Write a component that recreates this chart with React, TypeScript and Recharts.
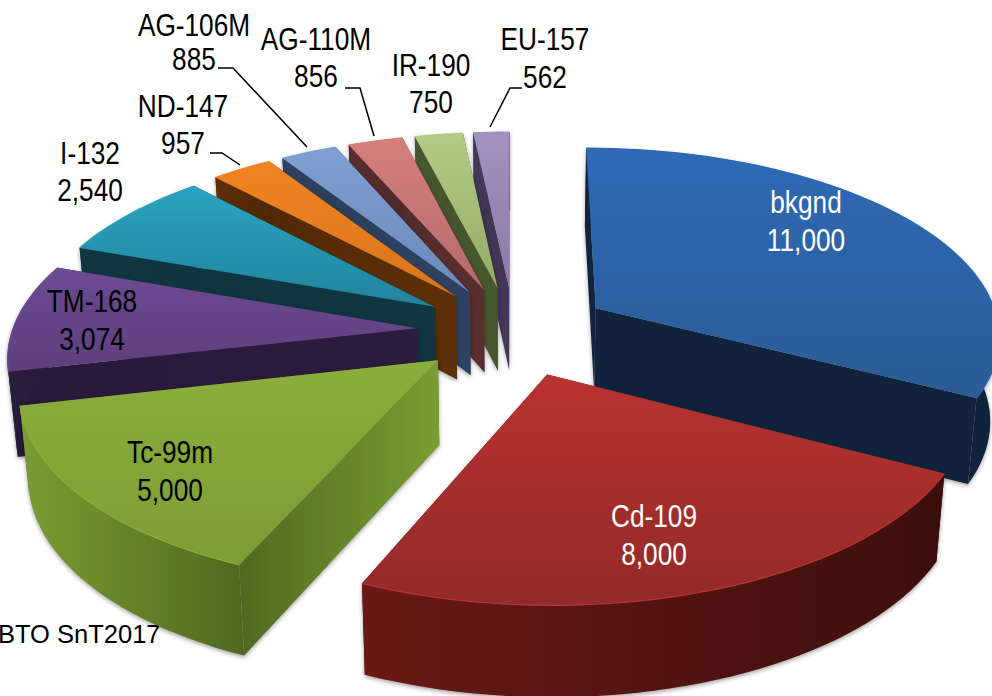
import React from 'react';
import { PieChart, Pie } from 'recharts';

// clockwise on the original is counter-clockwise here, so later slices paint over earlier ones
const isotopes = ['bkgnd', 'EU-157', 'IR-190', 'AG-110M', 'AG-106M', 'ND-147', 'I-132', 'TM-168', 'Tc-99m', 'Cd-109'];
const counts = [11000, 562, 750, 856, 885, 957, 2540, 3074, 5000, 8000];

const chartData = isotopes.map((name, i) => ({ name, value: counts[i] }));
const total = counts.reduce((a, b) => a + b, 0);
const START = 90 - (360 * counts[0]) / total;

const W = 992;
const H = 696;
const CX = 514;
const CY = 331;
const RADIUS = 405;
const EXPLODE = 97;
const DEPTH = 84;
const TILT = 0.462;
const PERSP = 0.00033;

// top light, top dark, wall light, wall dark
const colors: Record<string, string[]> = {
  bkgnd: ['#2f6ab6', '#2a5b95', '#12243e', '#11233c'],
  'Cd-109': ['#b93331', '#922a28', '#6a1916', '#3c0f0c'],
  'Tc-99m': ['#8bae3b', '#7d9d36', '#7b9c32', '#4f6a20'],
  'TM-168': ['#6b4b92', '#5e3f7d', '#2c1c3e', '#28183a'],
  'I-132': ['#2ba3c0', '#21849c', '#103640', '#0f3440'],
  'ND-147': ['#f08423', '#d9741b', '#5e3008', '#4e2806'],
  'AG-106M': ['#809fd2', '#6b8ab8', '#2d4264', '#2c3e5a'],
  'AG-110M': ['#d5807f', '#b56969', '#5a2e2e', '#4e2a2a'],
  'IR-190': ['#b3cc85', '#94aa67', '#48582e', '#44522c'],
  'EU-157': ['#a391c0', '#8a78a8', '#443859', '#3e3350'],
};

// label centre x, baselines of the two lines, colour
const labelPlaces: Record<string, [number, number, number, string]> = {
  bkgnd: [806, 213, 251, '#ffffff'],
  'Cd-109': [654, 527, 565, '#ffffff'],
  'Tc-99m': [170, 463, 501, '#000000'],
  'TM-168': [92, 312, 350, '#000000'],
  'I-132': [90, 164, 201, '#000000'],
  'ND-147': [183, 117, 154, '#000000'],
  'AG-106M': [194, 36, 70, '#000000'],
  'AG-110M': [316, 50, 87, '#000000'],
  'IR-190': [431, 76, 113, '#000000'],
  'EU-157': [545, 50, 88, '#000000'],
};

const leaders = [
  '490,127 510,88 522,88',
  '374,136 360,88 345,88',
  '307,147 233,68 218,68',
  '240,165 222,153 210,153',
];

const rad = (d: number) => (d * Math.PI) / 180;

function project(u: number, v: number, z: number) {
  const s = 1 / (1 + PERSP * v);
  const shrink = 1 - z * 0.00022;
  return [CX + u * s * shrink, CY - TILT * v * s + z * Math.sqrt(s)];
}

const pts = (list: number[][]) => list.map((p) => `${p[0].toFixed(1)},${p[1].toFixed(1)}`).join(' ');

function Slice(props: any) {
  const { startAngle, endAngle, name } = props;
  const c = colors[name];
  const mid = rad((startAngle + endAngle) / 2);
  const ou = EXPLODE * Math.cos(mid);
  const ov = EXPLODE * Math.sin(mid);
  const edge = (a: number, z: number) =>
    project(ou + RADIUS * Math.cos(rad(a)), ov + RADIUS * Math.sin(rad(a)), z);
  const arcTop: number[][] = [];
  const arcBot: number[][] = [];
  const steps = Math.max(4, Math.round((endAngle - startAngle) / 2));
  for (let i = 0; i <= steps; i++) {
    const a = startAngle + ((endAngle - startAngle) * i) / steps;
    arcTop.push(edge(a, 0));
    arcBot.push(edge(a, DEPTH));
  }
  const apexTop = project(ou, ov, 0);
  const apexBot = project(ou, ov, DEPTH);
  const id = name.replace(/[^a-zA-Z0-9]/g, '');
  const xs = arcTop.map((p) => p[0]);
  return (
    <g style={{ filter: 'drop-shadow(0px 2px 2px rgba(0,0,0,0.35))' }}>
      <defs>
        <linearGradient id={`top${id}`} x1="0" y1="0" x2="0" y2="1">
          <stop offset="0%" stopColor={c[0]} />
          <stop offset="100%" stopColor={c[1]} />
        </linearGradient>
        <linearGradient
          id={`wall${id}`}
          gradientUnits="userSpaceOnUse"
          x1={Math.min(...xs)}
          y1="0"
          x2={Math.max(...xs)}
          y2="0"
        >
          <stop offset="0%" stopColor={c[2]} />
          <stop offset="100%" stopColor={c[3]} />
        </linearGradient>
        <linearGradient
          id={`cut${id}`}
          gradientUnits="userSpaceOnUse"
          x1={apexTop[0]}
          y1="0"
          x2={arcTop[steps][0]}
          y2="0"
        >
          <stop offset="0%" stopColor={c[2]} />
          <stop offset="100%" stopColor={c[3]} />
        </linearGradient>
      </defs>
      <polygon points={pts([apexTop, apexBot, arcBot[0], arcTop[0]])} fill={c[3]} />
      <polygon points={pts([apexTop, apexBot, arcBot[steps], arcTop[steps]])} fill={`url(#cut${id})`} />
      <polygon points={pts([...arcTop, ...[...arcBot].reverse()])} fill={`url(#wall${id})`} />
      <polygon points={pts([apexTop, ...arcTop])} fill={`url(#top${id})`} />
      <polyline points={pts(arcTop)} fill="none" stroke={c[0]} strokeWidth={1.2} />
    </g>
  );
}

function SliceLabel(props: any) {
  const { name, value } = props;
  const [x, y1, y2, fill] = labelPlaces[name];
  return (
    <text
      transform={`translate(${x} 0) scale(0.82 1)`}
      fontFamily="'Liberation Sans', Arial, sans-serif"
      fontSize={32}
      textAnchor="middle"
      fill={fill}
    >
      <tspan x={0} y={y1}>{name}</tspan>
      <tspan x={0} y={y2}>{Number(value).toLocaleString('en-US')}</tspan>
    </text>
  );
}

export default function App() {
  return (
    <div style={{ position: 'absolute', left: 0, top: 0, width: W, height: H, overflow: 'hidden', background: '#fff' }}>
      <PieChart width={W} height={H} margin={{ top: 0, right: 0, bottom: 0, left: 0 }}>
        <Pie
          data={chartData}
          dataKey="value"
          nameKey="name"
          cx={CX}
          cy={CY}
          outerRadius={RADIUS}
          startAngle={START}
          endAngle={START + 360}
          stroke="none"
          shape={Slice}
          label={SliceLabel}
          labelLine={false}
          isAnimationActive={false}
        />
        {leaders.map((p) => (
          <polyline key={p} points={p} fill="none" stroke="#000" strokeWidth={1.5} />
        ))}
        <text x={-2} y={643} fontFamily="'Liberation Sans', Arial, sans-serif" fontSize={25.5} fill="#000">
          BTO SnT2017
        </text>
      </PieChart>
    </div>
  );
}
